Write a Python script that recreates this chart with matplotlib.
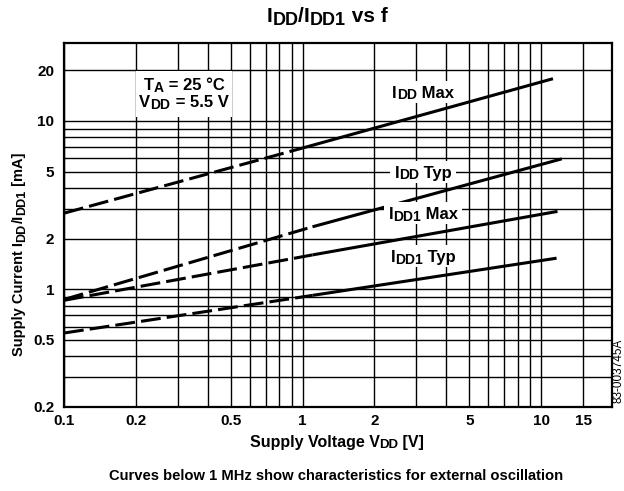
import matplotlib
matplotlib.use("Agg")
import matplotlib.pyplot as plt
import matplotlib.transforms as mtransforms
from matplotlib.patches import Rectangle

plt.rcParams['font.family'] = ['Liberation Sans', 'DejaVu Sans']
plt.rcParams['font.weight'] = 'bold'

# Data (frequency f [MHz] on x, supply current [mA] on y)
idd_max_f = [0.1, 1.0, 11.2]
idd_max_v = [2.83, 6.9, 17.8]
idd_typ_f = [0.1, 1.1, 12.2]
idd_typ_v = [0.87, 2.35, 5.95]
idd1_max_f = [0.1, 1.1, 11.7]
idd1_max_v = [0.86, 1.6, 2.9]
idd1_typ_f = [0.1, 1.1, 11.6]
idd1_typ_v = [0.55, 0.92, 1.53]

x_major = [0.1, 0.2, 0.5, 1, 2, 5, 10, 15]
x_major_labels = ['0.1', '0.2', '0.5', '1', '2', '5', '10', '15']
x_minor = [0.3, 0.4, 0.6, 0.7, 0.8, 0.9, 3, 4, 6, 7, 8, 9]
y_major = [0.2, 0.5, 1, 2, 5, 10, 20]
y_major_labels = ['0.2', '0.5', '1', '2', '5', '10', '20']
y_minor = [0.3, 0.4, 0.6, 0.7, 0.8, 0.9, 3, 4, 6, 7, 8, 9]

fig = plt.figure(figsize=(6.24, 4.91), dpi=100)
renderer = fig.canvas.get_renderer()
ax = fig.add_axes([64/624, 1-407/491, (612-64)/624, (407-43)/491])
ax.set_xscale('log')
ax.set_yscale('log')
ax.set_xlim(0.1, 19.8)
ax.set_ylim(0.2, 29)

ax.set_xticks(x_major)
ax.set_xticklabels(x_major_labels)
ax.set_xticks(x_minor, minor=True)
ax.set_xticklabels([], minor=True)
ax.set_yticks(y_major)
ax.set_yticklabels(y_major_labels)
ax.set_yticks(y_minor, minor=True)
ax.set_yticklabels([], minor=True)
ax.tick_params(which='both', length=0, labelsize=11)
ax.tick_params(axis='x', pad=5)
ax.tick_params(axis='y', pad=7)
ax.grid(True, which='both', color='black', linewidth=1.0)
ax.set_axisbelow(True)
for s in ax.spines.values():
    s.set_linewidth(1.6)

lw = 2.2
dash = (6.5, 2.0)
series = [(idd_max_f, idd_max_v), (idd_typ_f, idd_typ_v),
          (idd1_max_f, idd1_max_v), (idd1_typ_f, idd1_typ_v)]
for fx, vy in series:
    ax.plot(fx[:2], vy[:2], color='black', lw=lw, linestyle=(0, dash), zorder=4, solid_capstyle='butt')
    ax.plot(fx[1:], vy[1:], color='black', lw=lw, zorder=4, solid_capstyle='butt')

PX = 100 / 72  # pixels per point


def rich(x, y, parts, fs, sub_fs, transform, rotation=0, zorder=5):
    """Text with smaller, slightly lowered subscript pieces, centred on (x, y)."""
    widths = []
    for s, is_sub in parts:
        t = fig.text(0, 0, s, fontsize=sub_fs if is_sub else fs)
        widths.append(t.get_window_extent(renderer).width)
        t.remove()
    total = sum(widths)
    drop = fs * 0.10 * PX
    cap = fs * 0.716 * PX
    base = -cap / 2
    pos = -total / 2
    for (s, is_sub), w in zip(parts, widths):
        dy = base - (drop if is_sub else 0)
        if rotation == 0:
            ox, oy = pos, dy
        else:
            ox, oy = -dy, pos
        tr = mtransforms.offset_copy(transform, fig=fig, x=ox / PX, y=oy / PX, units='points')
        fig.text(x, y, s, fontsize=sub_fs if is_sub else fs, transform=tr,
                 ha='left', va='baseline', rotation=rotation, rotation_mode='anchor', zorder=zorder)
        pos += w
    return total


def white_box(x, y, w_px, h_px, transform, zorder=3):
    px, py = transform.transform((x, y))
    fig.add_artist(Rectangle((px - w_px / 2, py - h_px / 2), w_px, h_px, transform=None,
                             facecolor='white', edgecolor='none', zorder=zorder))


fs_lab, sub_lab = 12, 10
labels = [
    (3.2, 14.9, [('I', False), ('DD', True), (' Max', False)]),
    (3.2, 5.0, [('I', False), ('DD', True), (' Typ', False)]),
    (3.2, 2.83, [('I', False), ('DD1', True), (' Max', False)]),
    (3.2, 1.57, [('I', False), ('DD1', True), (' Typ', False)]),
]
for lx, ly, parts in labels:
    w = rich(lx, ly, parts, fs_lab, sub_lab, ax.transData, zorder=3.5)
    white_box(lx, ly, w + 8, 22, ax.transData, zorder=3)

white_box(0.318, 14.5, 96, 46, ax.transData, zorder=3)
rich(0.318, 16.5, [('T', False), ('A', True), (' = 25 °C', False)], fs_lab, sub_lab, ax.transData, zorder=3.5)
rich(0.318, 13.1, [('V', False), ('DD', True), (' = 5.5 V', False)], fs_lab, sub_lab, ax.transData, zorder=3.5)

rich(327/624, 1-15/491, [('I', False), ('DD', True), ('/', False), ('I', False), ('DD1', True), (' vs f', False)],
     15, 13, fig.transFigure)
rich(337/624, 1-441/491, [('Supply Voltage V', False), ('DD', True), (' [V]', False)], 11.5, 9.5,
     fig.transFigure)
rich(18/624, 1-254/491, [('Supply Current I', False), ('DD', True), ('/I', False), ('DD1', True), (' [mA]', False)],
     10.5, 9, fig.transFigure, rotation=90)
fig.text(336/624, 1-476/491, 'Curves below 1 MHz show characteristics for external oscillation',
         ha='center', va='center', fontsize=10.6)
fig.text(619/624, 1-371/491, '83-003745A', ha='center', va='center', rotation=90, fontsize=8.5,
         fontweight='normal')

fig.savefig('out.png', dpi=100)
